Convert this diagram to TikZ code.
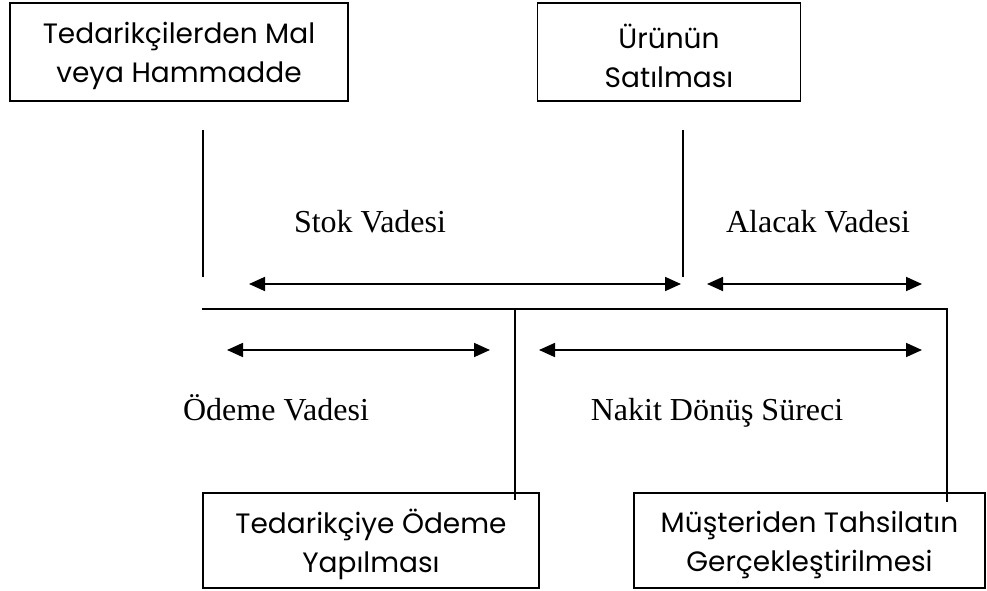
\documentclass[tikz,border=0pt]{standalone}
\usepackage{fontspec}
\setmainfont{Liberation Serif}
\newfontfamily\boxfont{Poppins}
\usetikzlibrary{arrows.meta}
\tikzset{
  procbox/.style={draw, line width=1.4pt, inner sep=0pt},
  boxtext/.style={align=center, inner sep=0pt, yshift=-4pt,
    font=\boxfont\fontsize{28}{39}\selectfont},
  period/.style={font=\fontsize{32}{36}\selectfont, inner sep=0pt, anchor=base},
  tline/.style={line width=1.7pt},
  span/.style={line width=1.7pt, {Triangle[length=16pt,width=14pt]}-{Triangle[length=16pt,width=14pt]}},
}
\begin{document}
\begin{tikzpicture}[x=1pt,y=-1pt]
\useasboundingbox (0,0) rectangle (987,591);
\clip (0,0) rectangle (987,591);
% boxes
\node[procbox, minimum width=338pt, minimum height=98pt,
  label={[boxtext]center:{Tedarikçilerden Mal\\veya Hammadde}}] (tedarik) at (179,52) {};
\node[procbox, minimum width=263pt, minimum height=98pt,
  label={[boxtext]center:{Ürünün\\Satılması}}] (satis) at (669,52) {};
\node[procbox, minimum width=336pt, minimum height=95pt,
  label={[boxtext]center:{Tedarikçiye Ödeme\\Yapılması}}] (odeme) at (371,540.5) {};
\node[procbox, minimum width=351pt, minimum height=95pt,
  label={[boxtext]center:{Müşteriden Tahsilatın\\Gerçekleştirilmesi}}] (tahsil) at (809.5,540.5) {};
% markers
\coordinate (a1) at (203,130);
\coordinate (a2) at (203,277);
\coordinate (b1) at (683,130);
\coordinate (b2) at (683,277);
\coordinate (h1) at (202,309);
\coordinate (h2) at (947,309);
\coordinate (m1) at (515,309);
\coordinate (m2) at (515,500);
\coordinate (r2) at (947,502);
\draw[tline] (a1) -- (a2);
\draw[tline] (b1) -- (b2);
\draw[tline] (h1) -- (h2) -- (r2);
\draw[tline] (m1) -- (m2);
% arrows
\coordinate (s1) at (249,284);
\coordinate (s2) at (681,284);
\coordinate (c1) at (707,284);
\coordinate (c2) at (922,284);
\coordinate (o1) at (227,350);
\coordinate (o2) at (490,350);
\coordinate (n1) at (539,350);
\coordinate (n2) at (922,350);
\draw[span] (s1) -- (s2);
\draw[span] (c1) -- (c2);
\draw[span] (o1) -- (o2);
\draw[span] (n1) -- (n2);
% labels
\node[period] (stok) at (370,232) {Stok Vadesi};
\node[period] (alacak) at (818,232) {Alacak Vadesi};
\node[period] (odv) at (276,420) {Ödeme Vadesi};
\node[period] (nakit) at (717,420) {Nakit Dönüş Süreci};
\end{tikzpicture}
\end{document}
